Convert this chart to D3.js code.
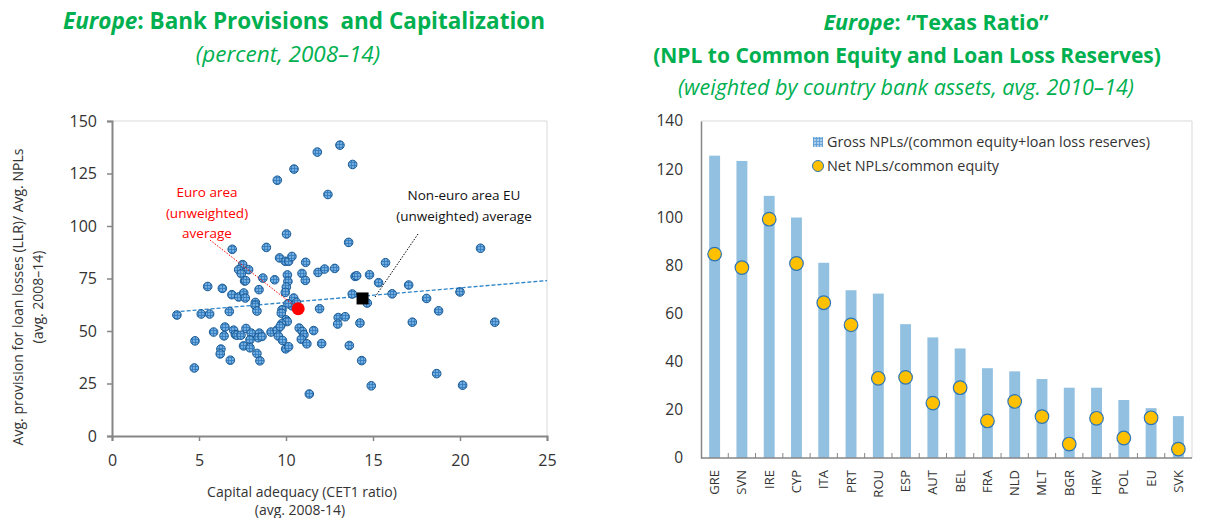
<!DOCTYPE html>
<html>
<head>
<meta charset="utf-8">
<script src="https://cdn.jsdelivr.net/npm/d3@7"></script>
<style>
  body { margin: 0; background: #fff; }
  svg { display: block; font-family: "Open Sans", "Noto Sans", sans-serif; }
</style>
</head>
<body>
<svg id="chart" width="1208" height="518"></svg>
<script>
// ---- left panel: one point per bank (CET1 ratio, provisions / NPLs) ----
const cet1Ratio = [
  11.8, 13.1, 13.83, 10.46, 9.5, 12.41, 10.03, 13.6, 21.18, 6.91,
  8.87, 9.63, 9.96, 10.15, 10.34, 11.13, 7.51, 7.28, 7.85, 7.43,
  7.62, 8.67, 9.35, 10.08, 10.11, 10.92, 11.11, 11.84, 12.22, 12.8,
  15.72, 13.97, 14.06, 14.8, 15.32, 17.05, 5.5, 6.34, 6.89, 7.28,
  7.57, 7.66, 8.45, 10.02, 9.96, 10.44, 8.24, 8.22, 8.33, 10.6,
  10.34, 10.11, 9.77, 9.73, 11.93, 6.74, 5.13, 5.61, 3.73, 13.81,
  14.67, 16.1, 18.08, 20.0, 18.77, 13.0, 13.4, 12.97, 14.25, 17.26,
  22.0, 10.0, 10.07, 9.75, 6.49, 5.84, 6.44, 6.99, 7.09, 7.18,
  7.7, 7.41, 8.0, 7.93, 7.56, 7.93, 8.47, 8.4, 8.62, 9.14,
  9.48, 9.56, 9.8, 9.98, 10.15, 10.76, 10.94, 11.03, 10.88, 11.2,
  11.59, 12.05, 4.77, 6.26, 6.22, 6.8, 8.33, 8.5, 4.73, 11.34,
  13.64, 14.35, 18.66, 14.9, 20.15, 9.67, 7.68
];
const provisionRatio = [
  135.2, 138.5, 129.3, 127.1, 121.8, 115, 96.2, 92.2, 89.4, 88.9,
  89.8, 84.8, 83.2, 83.2, 85.5, 82.7, 81.6, 79.2, 79.2, 77.3,
  73.8, 75.2, 74.4, 76.7, 73.6, 77.4, 74.1, 77.9, 79.5, 79.8,
  82.5, 76, 76.3, 76.8, 73, 71.9, 71.2, 70.3, 67.3, 66.2,
  68.1, 65.7, 69.7, 70.9, 68.4, 65.7, 63.6, 62.2, 59.5, 63.6,
  62, 63, 60.1, 58.5, 60.6, 59.3, 58.1, 58.1, 57.6, 67.6,
  63.3, 67.7, 65.5, 68.6, 59.6, 56.4, 56.8, 53.3, 53.8, 54.2,
  54.2, 55.3, 54.5, 53.4, 51.9, 49.5, 47.7, 50.4, 48.3, 48,
  51.2, 48, 49, 45.8, 42.9, 42, 49, 46.8, 47.4, 49.5,
  50.4, 47.6, 45.5, 41.5, 42.5, 51.4, 49.8, 48.2, 46.1, 43.9,
  50.2, 44, 45.3, 41.4, 39.1, 36.1, 39.3, 35.8, 32.4, 20,
  43.1, 35.9, 29.7, 23.9, 24.2, 52.2, 74
];
const euroAvg = [10.7, 60.6];       // euro area, unweighted
const nonEuroAvg = [14.4, 65.5];    // non-euro EU, unweighted
const trendLine = [[3.6, 59.1], [25, 74]];
const xTicksLeft = [0, 5, 10, 15, 20, 25];
const yTicksLeft = [0, 25, 50, 75, 100, 125, 150];

// ---- right panel: Texas ratio by country ----
const countries = ["GRE", "SVN", "IRE", "CYP", "ITA", "PRT", "ROU", "ESP", "AUT",
  "BEL", "FRA", "NLD", "MLT", "BGR", "HRV", "POL", "EU", "SVK"];
const grossNPL = [125.6, 123.4, 108.9, 99.9, 81.1, 69.7, 68.3, 55.6, 50.1,
  45.5, 37.3, 36.0, 32.8, 29.2, 29.2, 24.1, 20.7, 17.4];
const netNPL = [84.7, 79.1, 99.2, 80.8, 64.5, 55.3, 33.1, 33.5, 22.8,
  29.2, 15.4, 23.5, 17.2, 5.8, 16.5, 8.3, 16.7, 3.7];
const yTicksRight = [0, 20, 40, 60, 80, 100, 120, 140];

const green = "#00b050";
const axisColor = "#868686";
const frameColor = "#d9d9d9";
const textColor = "#333";

const svg = d3.select("#chart");

// hatch fill used for the scatter markers and the legend swatch
const defs = svg.append("defs");
function gridPattern(id, bg, line) {
  const p = defs.append("pattern").attr("id", id)
    .attr("width", 3).attr("height", 3).attr("patternUnits", "userSpaceOnUse");
  p.append("rect").attr("width", 3).attr("height", 3).attr("fill", bg);
  p.append("path").attr("d", "M0 0.5 H3 M0.5 0 V3")
    .attr("stroke", line).attr("stroke-width", 0.8);
}
gridPattern("dotGrid", "#72acdf", "#2f78bd");
gridPattern("barGrid", "#a9cdea", "#5b9bd5");

// ================= left panel =================
const left = svg.append("g").attr("class", "left");
const xL = d3.scaleLinear().domain([0, 25]).range([112, 547]);
const yL = d3.scaleLinear().domain([0, 150]).range([436, 121]);

// titles
const t1 = left.append("text").attr("x", 304).attr("y", 29)
  .attr("text-anchor", "middle").attr("fill", green)
  .attr("font-size", 22.5).attr("font-weight", "bold");
t1.append("tspan").attr("font-style", "italic").text("Europe");
t1.append("tspan").text(": Bank Provisions \u00a0and Capitalization");
left.append("text").attr("x", 288).attr("y", 62)
  .attr("text-anchor", "middle").attr("fill", green)
  .attr("font-size", 22.5).attr("font-style", "italic")
  .text("(percent, 2008\u201314)");

// frame on top/right
left.append("path")
  .attr("d", `M${xL(0)} ${yL(150)} H${xL(25)} V${yL(0)}`)
  .attr("fill", "none").attr("stroke", frameColor);

// axes
const xAxisL = left.append("g").attr("transform", `translate(0,${yL(0)})`)
  .call(d3.axisBottom(xL).tickValues(xTicksLeft).tickSize(5).tickPadding(14));
const yAxisL = left.append("g").attr("transform", `translate(${xL(0)},0)`)
  .call(d3.axisLeft(yL).tickValues(yTicksLeft).tickSize(5).tickPadding(10));
[xAxisL, yAxisL].forEach(a => {
  a.select(".domain").attr("stroke", axisColor).attr("stroke-width", 2);
  a.selectAll(".tick line").attr("stroke", axisColor).attr("stroke-width", 1.5);
  a.selectAll(".tick text").attr("fill", textColor).attr("font-size", 16)
    .attr("font-family", "'Open Sans', sans-serif");
});

// axis titles
left.append("text").attr("x", 302).attr("y", 497)
  .attr("text-anchor", "middle").attr("fill", textColor).attr("font-size", 14)
  .text("Capital adequacy (CET1 ratio)");
left.append("text").attr("x", 300).attr("y", 515)
  .attr("text-anchor", "middle").attr("fill", textColor).attr("font-size", 14)
  .text("(avg. 2008-14)");
const yTitle = left.append("g").attr("transform", "translate(23,297) rotate(-90)");
yTitle.append("text").attr("text-anchor", "middle").attr("fill", textColor)
  .attr("font-size", 14).text("Avg. provision for loan losses (LLR)/ Avg. NPLs");
yTitle.append("text").attr("y", 20).attr("text-anchor", "middle")
  .attr("fill", textColor).attr("font-size", 14).text("(avg. 2008\u201314)");

// linear trend
left.append("path")
  .attr("d", d3.line().x(d => xL(d[0])).y(d => yL(d[1]))(trendLine))
  .attr("fill", "none").attr("stroke", "#2e86c9")
  .attr("stroke-width", 1.3).attr("stroke-dasharray", "4 2");

// bank points
const banks = cet1Ratio.map((c, i) => ({ x: c, y: provisionRatio[i] }));
left.selectAll(".bank").data(banks)
  .join("circle").attr("class", "bank")
  .attr("cx", d => xL(d.x)).attr("cy", d => yL(d.y))
  .attr("r", 4.3)
  .attr("fill", "url(#dotGrid)")
  .attr("stroke", "#1a5a94").attr("stroke-width", 1);

// euro area annotation
left.append("path")
  .attr("d", `M210 240 L${xL(euroAvg[0])} ${yL(euroAvg[1])}`)
  .attr("stroke", "#ff0000").attr("stroke-width", 1).attr("stroke-dasharray", "1.5 1.5");
left.append("circle")
  .attr("cx", xL(euroAvg[0])).attr("cy", yL(euroAvg[1])).attr("r", 6.5)
  .attr("fill", "#ff0000");
left.selectAll(".euro-label").data(["Euro area", "(unweighted)", "average"])
  .join("text").attr("class", "euro-label")
  .attr("x", 207).attr("y", (d, i) => 197 + i * 20.5)
  .attr("text-anchor", "middle").attr("fill", "#ff0000").attr("font-size", 13.5)
  .text(d => d);

// non-euro EU annotation
left.append("path")
  .attr("d", `M418 234 L375 297`)
  .attr("stroke", "#000").attr("stroke-width", 1).attr("stroke-dasharray", "1.5 1.5");
left.append("rect")
  .attr("x", xL(nonEuroAvg[0]) - 6).attr("y", yL(nonEuroAvg[1]) - 6)
  .attr("width", 12).attr("height", 12).attr("fill", "#000");
left.selectAll(".noneuro-label").data(["Non-euro area EU", "(unweighted) average"])
  .join("text").attr("class", "noneuro-label")
  .attr("x", 464).attr("y", (d, i) => 200 + i * 21)
  .attr("text-anchor", "middle").attr("fill", "#111").attr("font-size", 13.5)
  .text(d => d);

// ================= right panel =================
const right = svg.append("g").attr("class", "right");
const xR = d3.scaleBand().domain(countries).range([701, 1192])
  .paddingInner(0.6).paddingOuter(0.3);
const yR = d3.scaleLinear().domain([0, 140]).range([458, 121]);

// titles
const r1 = right.append("text").attr("x", 936).attr("y", 30)
  .attr("text-anchor", "middle").attr("fill", green)
  .attr("font-size", 21.5).attr("font-weight", "bold");
r1.append("tspan").attr("font-style", "italic").text("Europe");
r1.append("tspan").text(": \u201cTexas Ratio\u201d");
right.append("text").attr("x", 907).attr("y", 63)
  .attr("text-anchor", "middle").attr("fill", green)
  .attr("font-size", 21).attr("font-weight", "bold")
  .text("(NPL to Common Equity and Loan Loss Reserves)");
right.append("text").attr("x", 906).attr("y", 95)
  .attr("text-anchor", "middle").attr("fill", green)
  .attr("font-size", 21.5).attr("font-style", "italic")
  .text("(weighted by country bank assets, avg. 2010\u201314)");

right.append("path")
  .attr("d", `M701 ${yR(140)} H1192 V${yR(0)}`)
  .attr("fill", "none").attr("stroke", frameColor);

// bars (gross)
right.selectAll(".gross").data(countries)
  .join("rect").attr("class", "gross")
  .attr("x", d => xR(d)).attr("width", xR.bandwidth())
  .attr("y", (d, i) => yR(grossNPL[i]))
  .attr("height", (d, i) => yR(0) - yR(grossNPL[i]))
  .attr("fill", "#92c0e0");

// axes
const yAxisR = right.append("g").attr("transform", "translate(701,0)")
  .call(d3.axisLeft(yR).tickValues(yTicksRight).tickSize(0).tickPadding(18));
yAxisR.select(".domain").attr("stroke", axisColor).attr("stroke-width", 1.5);
yAxisR.selectAll(".tick text").attr("fill", textColor).attr("font-size", 15.5)
  .attr("font-family", "'Open Sans', sans-serif");

right.append("line").attr("x1", 701).attr("x2", 1192)
  .attr("y1", yR(0)).attr("y2", yR(0))
  .attr("stroke", axisColor).attr("stroke-width", 1.5);
// category separators on the baseline
right.selectAll(".sep").data(countries.slice(1))
  .join("line").attr("class", "sep")
  .attr("x1", d => xR(d) - xR.step() * xR.paddingInner() / 2)
  .attr("x2", d => xR(d) - xR.step() * xR.paddingInner() / 2)
  .attr("y1", yR(0)).attr("y2", yR(0) - 5)
  .attr("stroke", axisColor);

right.selectAll(".cat").data(countries)
  .join("text").attr("class", "cat")
  .attr("transform", d => `translate(${xR(d) + xR.bandwidth() / 2 + 4.5},470) rotate(-90)`)
  .attr("text-anchor", "end").attr("fill", textColor).attr("font-size", 13)
  .text(d => d);

// dots (net)
right.selectAll(".net").data(countries)
  .join("circle").attr("class", "net")
  .attr("cx", d => xR(d) + xR.bandwidth() / 2)
  .attr("cy", (d, i) => yR(netNPL[i]))
  .attr("r", 6.8)
  .attr("fill", "#ffc000").attr("stroke", "#2e75b6").attr("stroke-width", 1.2);

// legend
const lg = right.append("g");
lg.append("rect").attr("x", 813).attr("y", 137).attr("width", 10).attr("height", 10)
  .attr("fill", "url(#barGrid)");
lg.append("text").attr("x", 827).attr("y", 147).attr("fill", textColor)
  .attr("font-size", 14.4).text("Gross NPLs/(common equity+loan loss reserves)");
lg.append("circle").attr("cx", 818).attr("cy", 166).attr("r", 5.5)
  .attr("fill", "#ffc000").attr("stroke", "#2e75b6").attr("stroke-width", 1);
lg.append("text").attr("x", 827).attr("y", 171).attr("fill", textColor)
  .attr("font-size", 14.4).text("Net NPLs/common equity");
</script>
</body>
</html>
